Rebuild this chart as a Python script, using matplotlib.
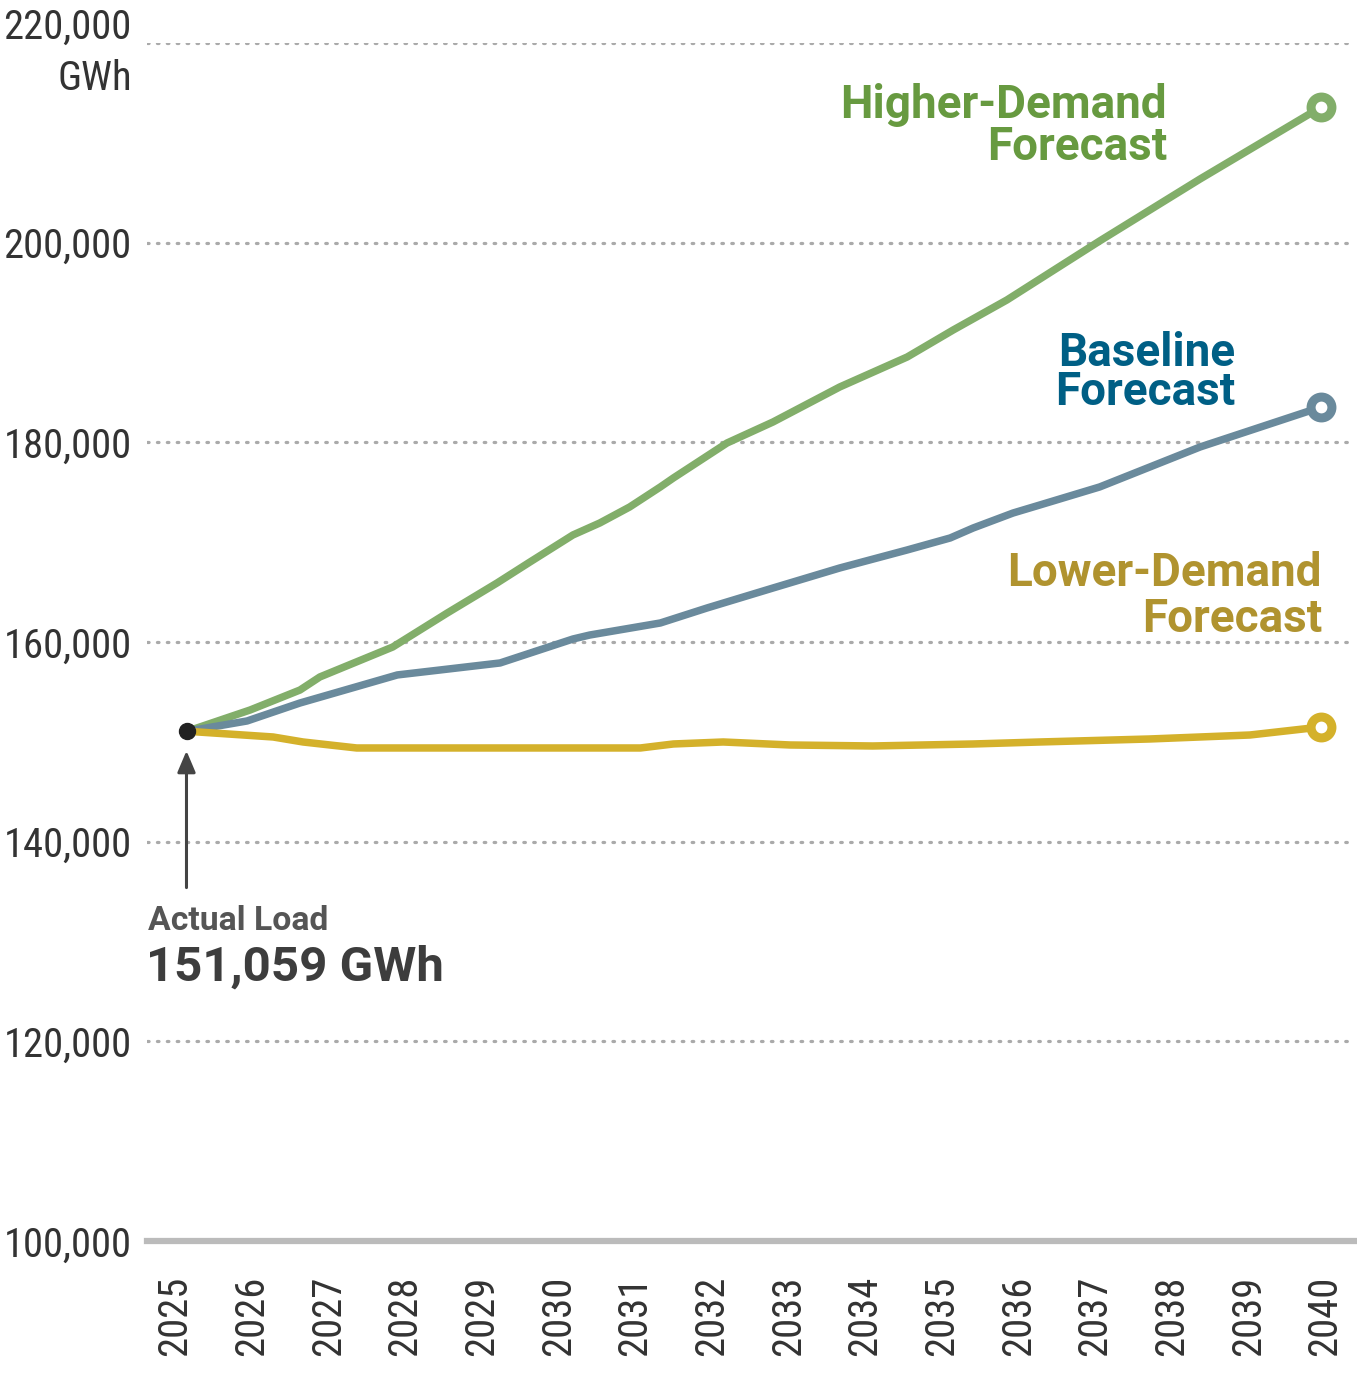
import matplotlib
matplotlib.use("Agg")
import matplotlib.pyplot as plt
from matplotlib import font_manager as fm

# --- data ---
start_year = 2025.16
start_load = 151059

higher_x = [2025.16, 2025.98, 2026.63, 2026.89, 2027.84, 2028.55, 2029.20, 2029.63,
            2030.19, 2030.54, 2030.93, 2031.33, 2031.50, 2032.20, 2032.80, 2033.67,
            2034.55, 2035.15, 2035.85, 2037.06, 2038.37, 2039.95]
higher_y = [151059, 153190, 155190, 156500, 159500, 162900, 165910, 168015,
            170720, 171920, 173525, 175530, 176430, 179935, 182040, 185545,
            188550, 191255, 194260, 200170, 206380, 213590]

base_x = [2025.16, 2025.94, 2026.63, 2027.90, 2028.46, 2029.24, 2030.19, 2030.41,
          2031.33, 2031.94, 2032.80, 2033.67, 2034.55, 2035.11, 2035.41, 2035.93,
          2036.28, 2037.06, 2038.37, 2039.24, 2039.95]
base_y = [151059, 152090, 153890, 156700, 157200, 157900, 160300, 160700,
          161905, 163410, 165410, 167415, 169220, 170420, 171420, 172920,
          173725, 175530, 179535, 181740, 183540]

lower_x = [2025.16, 2026.28, 2026.67, 2027.37, 2029.20, 2031.07, 2031.50, 2032.15,
           2033.02, 2034.10, 2035.41, 2036.28, 2037.71, 2039.02, 2039.95]
lower_y = [151059, 150485, 149985, 149385, 149385, 149385, 149785, 149985,
           149685, 149585, 149785, 149985, 150285, 150685, 151490]

years = list(range(2025, 2041))
yticks = [100000, 120000, 140000, 160000, 180000, 200000, 220000]


# --- fonts: look for a condensed face for the axis numbers ---
def condensed_font():
    prefs = ["roboto condensed", "liberation sans narrow", "noto sans",
             "dejavu sans condensed", "open sans"]
    found = []
    for f in fm.fontManager.ttflist:
        name = f.name.lower()
        st = str(f.stretch).lower()
        narrow = ("condensed" in name or "narrow" in name or "condensed" in st
                  or "condensed" in f.fname.lower())
        if not narrow or f.weight not in (400, "normal", "regular"):
            continue
        if "semi" in name or "semi" in st or "extra" in st or "ultra" in st:
            continue
        rank = len(prefs)
        for i, p in enumerate(prefs):
            if name.startswith(p):
                rank = i
                break
        if f.style != "normal":
            continue
        found.append((rank, f.fname))
    if found:
        found.sort()
        return fm.FontProperties(fname=found[0][1])
    return fm.FontProperties(family="Roboto")


tick_fp = condensed_font()
label_font = "Roboto"

W, H = 1357, 1387
fig = plt.figure(figsize=(W / 100, H / 100), dpi=100)


def fx(x):
    return x / W


def fy(y):
    return 1 - y / H


# size the axis numbers so "200,000" is about as wide as in the reference
renderer = fig.canvas.get_renderer()
probe = fig.text(0, 0, "200,000", fontproperties=tick_fp, fontsize=34)
wpx = probe.get_window_extent(renderer).width
probe.remove()
tick_size = min(34, 34 * 128 / wpx)

ax = fig.add_axes([fx(147), fy(1241), fx(1355) - fx(147), fy(43) - fy(1241)])
ax.set_xlim(2024.635, 2040.39)
ax.set_ylim(100000, 220000)

for v in yticks[1:]:
    ax.axhline(v, color="#aaaaaa", lw=2.3, linestyle=(0, (0.5, 2.6)),
               dash_capstyle="round", zorder=1)
ax.axhline(100000, color="#bbbbbb", lw=4.5, zorder=1, clip_on=False)

for s in ax.spines.values():
    s.set_visible(False)

ax.plot(higher_x, higher_y, color="#82ae6a", lw=5.4, solid_capstyle="round",
        solid_joinstyle="round", zorder=3)
ax.plot(base_x, base_y, color="#6a8a9c", lw=5.4, solid_capstyle="round",
        solid_joinstyle="round", zorder=3)
ax.plot(lower_x, lower_y, color="#d4b12b", lw=5.4, solid_capstyle="round",
        solid_joinstyle="round", zorder=3)

for xs, ys, c in [(higher_x, higher_y, "#82ae6a"), (base_x, base_y, "#6a8a9c"),
                  (lower_x, lower_y, "#d4b12b")]:
    ax.plot(xs[-1], ys[-1], "o", ms=15, mfc="white", mec=c, mew=6.5,
            zorder=4, clip_on=False)

ax.plot(start_year, start_load, "o", ms=11.5, color="#222222", zorder=5)

# arrow to the starting point
ax.annotate("", xy=(start_year - 0.01, 149100), xytext=(start_year - 0.01, 135400),
            arrowprops=dict(arrowstyle="-|>,head_length=1.3,head_width=0.55",
                            color="#444444", lw=2.2, shrinkA=0, shrinkB=0))

# ticks
ax.set_yticks(yticks)
ax.set_yticklabels([f"{v:,}" for v in yticks[:-1]] + ["220,000\nGWh"],
                   color="#333333")
ax.tick_params(axis="y", length=0, pad=11)
ax.set_xticks(years)
ax.set_xticklabels([str(y) for y in years], rotation=90, color="#333333")
ax.tick_params(axis="x", length=0, pad=25)
for lab in ax.get_yticklabels() + ax.get_xticklabels():
    lab.set_fontproperties(tick_fp)
    lab.set_fontsize(tick_size)
ax.get_yticklabels()[-1].set_linespacing(1.4)

# series labels
fig.text(fx(1167), fy(160), "Higher-Demand\nForecast", ha="right", va="baseline",
         fontsize=33, fontweight="bold", color="#679a40", family=label_font,
         linespacing=0.95)
fig.text(fx(1235), fy(405), "Baseline\nForecast", ha="right", va="baseline",
         fontsize=33, fontweight="bold", color="#005f85", family=label_font,
         linespacing=0.85)
fig.text(fx(1322), fy(632), "Lower-Demand\nForecast", ha="right", va="baseline",
         fontsize=33, fontweight="bold", color="#b0932f", family=label_font,
         linespacing=1.05)

fig.text(fx(148), fy(930), "Actual Load", ha="left", va="baseline",
         fontsize=24.3, fontweight="bold", color="#555555", family=label_font)
fig.text(fx(146), fy(981), "151,059 GWh", ha="left", va="baseline",
         fontsize=35.5, fontweight="bold", color="#3d3d3d", family=label_font)

fig.savefig("out.png", dpi=100, facecolor="white")
